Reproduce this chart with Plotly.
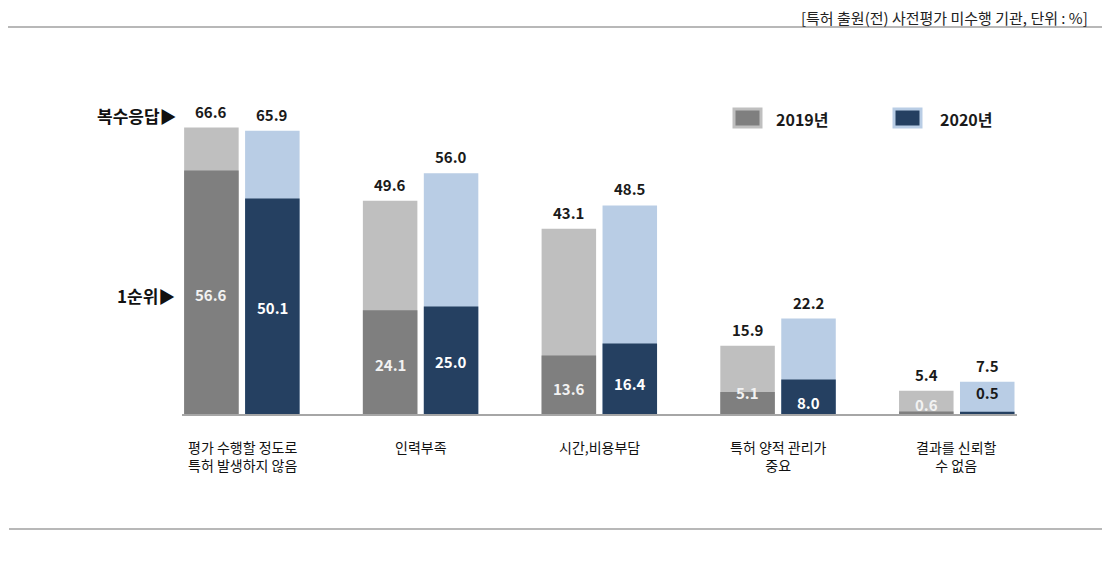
import plotly.graph_objects as go

categories = ["평가 수행할 정도로<br>특허 발생하지 않음", "인력부족", "시간,비용부담", "특허 양적 관리가<br>중요", "결과를 신뢰할<br>수 없음"]
multi_2019 = [66.6, 49.6, 43.1, 15.9, 5.4]
multi_2020 = [65.9, 56.0, 48.5, 22.2, 7.5]
first_2019 = [56.6, 24.1, 13.6, 5.1, 0.6]
first_2020 = [50.1, 25.0, 16.4, 8.0, 0.5]
years = ["2019년", "2020년"]
title_text = "[특허 출원(전) 사전평가 미수행 기관, 단위 : %]"

FONT = "Noto Sans CJK KR"
C19_L, C19_D = "#BFBFBF", "#7F7F7F"
C20_L, C20_D = "#B9CDE5", "#254061"

PAGE_OFF = 8  # default body margin of the page
W, H = 1110 - PAGE_OFF, 564 - PAGE_OFF
# target page-pixel geometry
P_LEFT, P_RIGHT, P_TOP, P_BASE = 182, 1017, 70, 414
ML = P_LEFT - PAGE_OFF
MT = P_TOP - PAGE_OFF
MR = W - (P_RIGHT - PAGE_OFF)
MB = H - (P_BASE - PAGE_OFF)
PW, PH = W - ML - MR, H - MT - MB
YMAX = 80

def px_x(px):
    return (px - P_LEFT) / PW

def px_y(py):
    return (P_BASE - py) / PH

x = list(range(len(categories)))
OFF19, OFF20, BW = -0.324, 0.017, 0.305

fig = go.Figure()
for vals, col, off, name in [
    (multi_2019, C19_L, OFF19, years[0]),
    (first_2019, C19_D, OFF19, years[0]),
    (multi_2020, C20_L, OFF20, years[1]),
    (first_2020, C20_D, OFF20, years[1]),
]:
    fig.add_trace(go.Bar(x=x, y=vals, offset=off, width=BW, marker=dict(color=col, line_width=0),
                         name=name, showlegend=False, hoverinfo="skip"))

ann = []
# totals above bars
for vals, off in [(multi_2019, OFF19), (multi_2020, OFF20)]:
    for i, v in enumerate(vals):
        ann.append(dict(x=i + off + BW / 2, y=v, xref="x", yref="y", text=f"{v:.1f}", showarrow=False,
                        yanchor="bottom", yshift=4, font=dict(family=FONT, size=15, color="#1a1a1a", weight="bold")))

# inner first-rank labels (label heights in data units)
lab_y19 = [27.7, 11.4, 6.0, 4.9, 2.3]
lab_y20 = [24.7, 12.1, 7.2, 2.6, 4.9]
for vals, off, ly, cols in [(first_2019, OFF19, lab_y19, ["#F2F2F2"] * 5),
                            (first_2020, OFF20, lab_y20, ["#FFFFFF"] * 4 + ["#1a1a1a"])]:
    for i, v in enumerate(vals):
        ann.append(dict(x=i + off + BW / 2, y=ly[i], xref="x", yref="y", text=f"{v:.1f}", showarrow=False,
                        yanchor="middle", font=dict(family=FONT, size=15, color=cols[i], weight="bold")))

# category labels
for i, c in enumerate(categories):
    ann.append(dict(x=i, y=px_y(435), xref="x", yref="paper", text=c, showarrow=False, yanchor="top",
                    align="center", font=dict(family=FONT, size=14, color="#111111")))

# side labels
ann.append(dict(x=px_x(179), y=px_y(115), xref="paper", yref="paper", text="복수응답▶", showarrow=False,
                xanchor="right", yanchor="middle", font=dict(family=FONT, size=17, color="#111111", weight="bold")))
ann.append(dict(x=px_x(177), y=px_y(295), xref="paper", yref="paper", text="1순위▶", showarrow=False,
                xanchor="right", yanchor="middle", font=dict(family=FONT, size=17, color="#111111", weight="bold")))

# legend texts
ann.append(dict(x=px_x(774), y=px_y(119), xref="paper", yref="paper", text=years[0], showarrow=False,
                xanchor="left", yanchor="middle", font=dict(family=FONT, size=16, color="#1a1a1a", weight="bold")))
ann.append(dict(x=px_x(938), y=px_y(119), xref="paper", yref="paper", text=years[1], showarrow=False,
                xanchor="left", yanchor="middle", font=dict(family=FONT, size=16, color="#1a1a1a", weight="bold")))

# title
ann.append(dict(x=px_x(1090), y=px_y(18), xref="paper", yref="paper", text=title_text, showarrow=False,
                xanchor="right", yanchor="middle", font=dict(family=FONT, size=15, color="#222222")))

shapes = [
    dict(type="line", xref="paper", yref="paper", x0=px_x(8), x1=px_x(1102), y0=px_y(27), y1=px_y(27),
         line=dict(color="#A0A0A0", width=1.5)),
    dict(type="line", xref="paper", yref="paper", x0=px_x(9), x1=px_x(1102), y0=px_y(529), y1=px_y(529),
         line=dict(color="#A0A0A0", width=1.5)),
    dict(type="rect", xref="paper", yref="paper", x0=px_x(734), x1=px_x(761), y0=px_y(127), y1=px_y(109),
         fillcolor=C19_D, line=dict(color=C19_L, width=3)),
    dict(type="rect", xref="paper", yref="paper", x0=px_x(894), x1=px_x(921), y0=px_y(127), y1=px_y(109),
         fillcolor=C20_D, line=dict(color=C20_L, width=3)),
]

fig.update_layout(
    width=W, height=H, margin=dict(l=ML, r=MR, t=MT, b=MB),
    paper_bgcolor="white", plot_bgcolor="white", barmode="overlay", showlegend=False,
    xaxis=dict(range=[-0.336, 4.336], showticklabels=False, showgrid=False, zeroline=False,
               showline=True, linecolor="#A6A6A6", linewidth=2, ticks=""),
    yaxis=dict(range=[0, YMAX], visible=False),
    annotations=ann, shapes=shapes,
)
fig.write_html("out.html")
